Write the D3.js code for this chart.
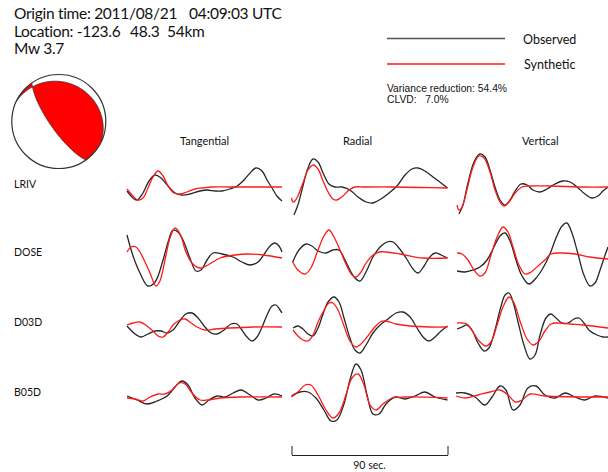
<!DOCTYPE html>
<html>
<head>
<meta charset="utf-8">
<script src="https://cdn.jsdelivr.net/npm/d3@7/dist/d3.min.js"></script>
<style>
  html, body { margin: 0; padding: 0; background: #fff; }
  svg { display: block; }
  text { font-family: Lato, "Open Sans", sans-serif; fill: #111; white-space: pre; }
</style>
</head>
<body>
<svg id="chart" width="608" height="472"></svg>
<script>
// ---- Event header (each line split into aligned fields) ----
const headerLines = [
  ["Origin time: 2011/08/21", "04:09:03 UTC"],
  ["Location: -123.6", "48.3", "54km"],
  ["Mw 3.7"]
];
const headerFieldX = [[14, 189], [14, 130, 167], [14]];
const fitStats = ["Variance reduction: 54.4%", "CLVD:   7.0%"];
const legendLabels = ["Observed", "Synthetic"];

// ---- Focal mechanism (strike, dip, slip angle in plane, degrees) ----
const faultPlane = [145, 75, 81.5];

// ---- Stations and components ----
const stations = ["LRIV", "DOSE", "D03D", "B05D"];
const components = ["Tangential", "Radial", "Vertical"];
const windowSec = 90;
const scaleBarLabel = "90 sec.";

// ---- Waveforms: [time (s), amplitude] ----
const lrivTanObs = [[0,-3],[2.9,-9],[5.8,-12],[9.2,-5],[12.7,7],[16.2,13],[19.6,10],[23.7,2],[27.7,-5],[31.7,-7],[36.3,-6],[42.1,-3],[46.2,-2],[50.8,-3],[54.8,-3],[59.4,-1],[63.5,2],[67.5,8],[71,15],[74.4,20],[77.9,17],[80.8,8],[83.7,0],[86.5,-8],[89.4,-13]];
const lrivTanSyn = [[0,-1],[2.9,-7],[6.3,-12],[9.2,-10],[12.1,0],[15,11],[17.9,17],[20.8,12],[23.7,2],[27.1,-5],[30.6,-6],[34.6,-4],[39.2,-1],[43.3,0],[49,1],[59.4,1],[71,1],[89.4,1]];
const lrivRadObs = [[1.4,-27],[3.7,-17],[6.6,2],[9.5,20],[12.4,29],[15.3,26],[18.2,15],[21.6,4],[25.1,1],[29.1,1],[33.7,-2],[38.4,-9],[43,-14],[47,-15],[51.6,-11],[56.3,-5],[60.9,2],[65.5,13],[69.5,19],[73,20],[77,17],[81.6,11],[86.3,5],[90,0]];
const lrivRadSyn = [[0,-10],[0.9,-14],[2,-13],[3.7,-8],[6.6,5],[9.5,18],[12.4,23],[15.3,19],[18.2,7],[21.1,-4],[23.9,-11],[26.2,-12],[29.7,-8],[33.2,-2],[36.6,1],[42.4,1],[56.8,1],[74.1,0.5],[90,0]];
const lrivVerObs = [[1.7,-26],[4,-17],[6.9,5],[10.4,26],[13.8,34],[16.7,31],[19.6,18],[22.5,1],[25.4,-12],[28.3,-17],[31.2,-12],[34.1,-3],[37.5,4],[41,3],[44.4,-2],[48.5,-4],[52.5,-1],[57.1,4],[61.7,7],[65.8,6],[69.8,1],[74.4,-6],[78.5,-10],[81.9,-8],[84.8,-3],[87.7,1]];
const lrivVerSyn = [[0.6,-17],[1.7,-22],[3.5,-19],[6.3,-2],[9.8,21],[13.3,32],[16.2,30],[19.6,16],[22.5,-2],[25.4,-14],[27.7,-18],[30.6,-14],[34.1,-5],[38.1,1],[42.7,2],[54.2,2],[73.3,1],[87.7,1]];

const doseTanObs = [[0,21],[3.5,0],[7.5,-17],[12.1,-30],[16.2,-26],[20.8,-4],[23.7,14],[26.5,26],[29.4,24],[32.3,16],[36.3,-2],[39.8,-15],[42.7,-14],[46.2,-4],[49.6,3],[54.8,2],[61.2,-1],[66.3,-6],[71,-9],[75.6,-6],[79.6,3],[83.1,11],[85.4,13],[87.7,10],[89.4,4]];
const doseTanSyn = [[0,4],[2.3,9],[5.2,9],[7.5,4],[10.4,-6],[13.3,-17],[16.7,-30],[19,-25],[22.5,1],[24.8,18],[27.7,28],[30.6,22],[34,4],[37.5,-7],[42.1,-12],[46.7,-9],[53.7,-2],[62.3,1],[69.2,2],[78.5,1],[89.4,-2]];
const doseRadObs = [[0.7,-6],[4.3,6],[8.4,12],[11.8,10],[15.3,5],[19.9,3],[23.9,6],[27.4,6],[30.9,-4],[33.7,-14],[36.6,-22],[39.5,-25],[43,-16],[47,-1],[51.1,9],[55.1,14],[58.6,14],[62,8],[66.1,-2],[70.1,-13],[73,-17],[76.5,-10],[79.3,-2],[82.8,3],[86.3,1],[90,-2]];
const doseRadSyn = [[0.7,-6],[3.7,-14],[7.8,-18],[11.2,-12],[15.3,6],[18.7,20],[21.6,26],[24.5,19],[28,6],[31.4,-8],[34.9,-19],[37.2,-21],[40.1,-16],[43,-7],[46.4,0],[50.5,4],[54.5,4],[62.6,2],[75.9,-2],[90,-2]];
const doseVerObs = [[0.6,-15],[5.2,-16],[9.8,-14],[13.8,-11],[17.9,-4],[21.9,9],[25.4,20],[28.3,23],[31.2,15],[34.6,-4],[38.1,-20],[42.1,-28],[46.2,-22],[50.2,-12],[54.2,2],[57.7,18],[61.2,30],[64,33],[66.9,23],[70.4,2],[73.8,-19],[77.3,-30],[80.2,-27],[83.1,-14],[86,1],[87.7,9]];
const doseVerSyn = [[0.6,3],[3.5,2],[6.9,-4],[10.4,-14],[13.8,-20],[16.7,-17],[20.2,1],[23.7,19],[27.1,29],[30,24],[32.9,9],[36.3,-9],[39.8,-18],[43.3,-16],[47.3,-10],[51.3,-4],[54.8,2],[60,3],[68.7,2],[77.3,-1],[87.7,-3]];

const d03dTanObs = [[0,0],[4,-7],[8.1,-11],[12.1,-8],[16.2,-5],[19.6,-5],[23.1,-7],[26.5,-4],[30,4],[34,12],[37.5,13],[41,8],[45,-1],[48.5,-7],[52,-8],[56,-4],[60,2],[63.5,2],[66.3,-4],[69.2,-11],[72.1,-15],[75,-11],[77.9,-1],[80.8,11],[83.7,20],[86,21],[88.3,16],[89.4,13]];
const d03dTanSyn = [[0,1],[3.5,3],[7.5,4],[11.5,0],[15,-5],[17.9,-10],[20.8,-11],[23.7,-6],[27.1,2],[30.6,6],[33.5,7],[37,3],[40.4,-1],[45,-4],[50.8,-3],[59.4,-2],[72.7,-1],[89.4,-1]];
const d03dRadObs = [[0.9,-2],[3.7,0],[6.6,-3],[9.5,-8],[12.4,-10],[15.3,-2],[18.2,12],[21.1,24],[24.5,29],[27.4,24],[30.3,8],[33.7,-12],[36.6,-24],[39.5,-27],[43,-19],[47,-7],[51.1,1],[55.7,7],[60.3,13],[64.3,14],[68.4,9],[72.4,-2],[75.9,-11],[79.3,-15],[82.8,-11],[86.3,-5],[90,0]];
const d03dRadSyn = [[0.9,-4],[3.7,-10],[6.6,-14],[9.5,-15],[12.4,-9],[15.3,4],[18.2,14],[21.6,23],[23.9,23],[26.8,16],[30.3,0],[33.7,-15],[37.2,-21],[40.1,-18],[43.6,-11],[47.6,-2],[51.1,4],[54.5,5],[60.3,2],[68.4,0],[79.9,-1],[90,-1]];
const d03dVerObs = [[0.6,-3],[3.5,-1],[6.3,1],[9.2,-4],[12.7,-17],[16.2,-25],[19,-22],[22.5,-4],[25.4,16],[28.3,31],[30.6,33],[32.9,24],[35.8,4],[39.2,-19],[42.7,-33],[45.6,-29],[48.5,-9],[51.9,8],[54.8,12],[57.7,8],[61.2,3],[64.6,3],[68.1,7],[71,8],[73.8,3],[77.3,-5],[81.3,-9],[84.8,-11],[87.7,-11]];
const d03dVerSyn = [[0.6,3],[3.5,3],[6.3,2],[9.8,-6],[13.3,-15],[17.3,-20],[20.2,-16],[23.7,1],[27.1,19],[30.6,29],[33.5,23],[36.9,5],[41,-13],[44.4,-19],[47.9,-15],[51.3,-5],[54.8,2],[58.8,3],[65.8,2],[73.3,1],[87.7,-2]];

const b05dTanObs = [[0,0],[5.8,-4],[11.5,-8],[17.3,-5],[23.1,0],[27.7,9],[31.7,15],[35.2,11],[39.2,-2],[43.3,-9],[47.3,-4],[51.9,0],[56.5,-1],[61.2,3],[65.8,6],[71,1],[75.6,-4],[80.2,-2],[84.8,2],[89.4,0]];
const b05dTanSyn = [[0,-2],[4.6,-3],[9.2,-5],[13.3,-1],[17.9,2],[21.9,2],[26,6],[30,13],[33.5,12],[37.5,3],[42.1,-4],[46.7,-4],[53.7,-2],[65.2,-1],[89.4,-1]];
const b05dRadObs = [[0,0],[4.9,4],[9.5,4],[14.1,-2],[18.7,-14],[22.8,-25],[26.2,-24],[30.3,-8],[33.7,16],[37.2,32],[40.1,26],[43.6,1],[47,-18],[50.5,-18],[54.5,-8],[59.7,-1],[65.5,-3],[71.2,0],[77,4],[82.8,-1],[90,-4]];
const b05dRadSyn = [[0,-1],[3.7,4],[7.8,11],[11.2,11],[15.3,1],[19.9,-14],[23.9,-22],[27.4,-17],[31.4,1],[34.9,18],[38.4,22],[41.8,11],[45.3,-9],[48.8,-14],[52.8,-8],[58,-2],[65.5,-1],[90,-2]];
const b05dVerObs = [[0,3],[5.2,3],[11,-1],[16.7,-9],[20.8,-1],[25.4,10],[28.8,6],[32.9,-14],[36.9,-9],[41.5,8],[46.2,10],[51.3,1],[57.1,-2],[62.9,3],[68.7,-1],[74.4,-4],[80.2,0],[87.7,-2]];
const b05dVerSyn = [[0,0],[5.8,-2],[12.7,1],[19.6,4],[25.4,6],[30,1],[34.1,-6],[38.1,-4],[42.7,2],[51.3,0],[87.7,-1]];

const traceSets = [
  [lrivTanObs, lrivTanSyn, lrivRadObs, lrivRadSyn, lrivVerObs, lrivVerSyn],
  [doseTanObs, doseTanSyn, doseRadObs, doseRadSyn, doseVerObs, doseVerSyn],
  [d03dTanObs, d03dTanSyn, d03dRadObs, d03dRadSyn, d03dVerObs, d03dVerSyn],
  [b05dTanObs, b05dTanSyn, b05dRadObs, b05dRadSyn, b05dVerObs, b05dVerSyn]
];

// ---- Layout ----
const svg = d3.select("#chart");
const obsColor = "#262626", synColor = "#ff1a1a";
const colLeft = [127, 291.5, 456], colWidth = 156;
const rowBase = [188, 256, 326, 396];
const headerX = [180, 343, 522];

const xScales = colLeft.map(x0 => d3.scaleLinear().domain([0, windowSec]).range([x0, x0 + colWidth]));
const yScales = rowBase.map(b => d3.scaleLinear().domain([-40, 40]).range([b + 40, b - 40]));

// Header text
const header = svg.append("g").style("font-size", "15.5px").style("letter-spacing", "-0.3px");
headerLines.forEach((fields, i) => {
  header.append("g").selectAll("text").data(fields).join("text")
    .attr("x", (d, k) => headerFieldX[i][k]).attr("y", 19 + i * 17.5).text(d => d);
});

// Legend
const legend = svg.append("g");
legend.selectAll("line").data(legendLabels).join("line")
  .attr("x1", 387).attr("x2", 505)
  .attr("y1", (d, i) => 38.5 + i * 25.5).attr("y2", (d, i) => 38.5 + i * 25.5)
  .attr("stroke", (d, i) => i ? synColor : "#555").attr("stroke-width", 1.3);
legend.selectAll("text").data(legendLabels).join("text")
  .attr("x", (d, i) => 523 + i).attr("y", (d, i) => 44 + i * 24.5)
  .style("font-size", "12.5px").text(d => d);

svg.append("g").selectAll("text").data(fitStats).join("text")
  .attr("x", 387).attr("y", (d, i) => 91.5 + i * 11.8)
  .style("font-family", "'Liberation Sans Narrow', 'Liberation Sans', sans-serif")
  .style("font-size", "10.3px").text(d => d);

// Column headers and station names
svg.append("g").selectAll("text").data(components).join("text")
  .attr("x", (d, i) => headerX[i]).attr("y", 145)
  .style("font-size", "11px").text(d => d);
svg.append("g").selectAll("text").data(stations).join("text")
  .attr("x", 14).attr("y", (d, i) => rowBase[i])
  .style("font-size", "10.5px").text(d => d);

// Waveforms
const waves = svg.append("g").attr("fill", "none").attr("stroke-width", 1.3);
traceSets.forEach((set, r) => {
  components.forEach((c, ci) => {
    const line = d3.line()
      .x(d => xScales[ci](d[0]))
      .y(d => yScales[r](d[1]))
      .curve(d3.curveCatmullRom.alpha(0.5));
    waves.append("path").attr("d", line(set[ci * 2])).attr("stroke", obsColor);
    waves.append("path").attr("d", line(set[ci * 2 + 1])).attr("stroke", synColor);
  });
});

// Time scale bar under the radial column
const bar = svg.append("g").attr("transform", "translate(0,455)")
  .call(d3.axisBottom(xScales[1]).tickValues([0, windowSec]).tickSize(-9).tickSizeOuter(0).tickFormat(""));
bar.selectAll("path, line").attr("stroke", "#222").attr("stroke-width", 1);
svg.append("text").attr("x", xScales[1](windowSec / 2)).attr("y", 469)
  .attr("text-anchor", "middle").style("font-size", "10.5px").text(scaleBarLabel);

// ---- Focal mechanism (lower hemisphere, equal-area) ----
const rad = Math.PI / 180;
const [strike, dip, slipAngle] = faultPlane;
const strikeVec = [Math.cos(strike * rad), Math.sin(strike * rad), 0];
const dipVec = [Math.cos(dip * rad) * Math.cos((strike + 90) * rad), Math.cos(dip * rad) * Math.sin((strike + 90) * rad), Math.sin(dip * rad)];
const normalVec = [Math.sin(dip * rad) * Math.cos((strike - 90) * rad), Math.sin(dip * rad) * Math.sin((strike - 90) * rad), Math.cos(dip * rad)];
const slipVec = strikeVec.map((s, k) => Math.cos(slipAngle * rad) * s + Math.sin(slipAngle * rad) * dipVec[k]);
const dot = (a, b) => a[0] * b[0] + a[1] * b[1] + a[2] * b[2];

const bb = { cx: 58.8, cy: 121.5, r: 47 };
const n = 240;
const values = new Array(n * n);
for (let j = 0; j < n; j++) {
  for (let i = 0; i < n; i++) {
    const px = ((i + 0.5) / n) * 2 - 1, py = ((j + 0.5) / n) * 2 - 1;
    const rho2 = px * px + py * py;
    if (rho2 > 1) { values[j * n + i] = -1; continue; }
    const f = Math.sqrt(2 - rho2);
    const dir = [-py * f, px * f, 1 - rho2];
    values[j * n + i] = dot(normalVec, dir) * dot(slipVec, dir);
  }
}
const contour = d3.contours().size([n, n]).thresholds([0])(values)[0];
const proj = d3.geoIdentity().scale(2 * bb.r / n).translate([bb.cx - bb.r, bb.cy - bb.r]);
const ball = svg.append("g");
ball.append("path").attr("d", d3.geoPath(proj)(contour)).attr("fill", "#ff0000");

// Nodal planes as projected great circles
const toScreen = v => [bb.cx + bb.r * v[1] / Math.sqrt(1 + v[2]), bb.cy - bb.r * v[0] / Math.sqrt(1 + v[2])];
function greatCircle(nv) {
  let h = [nv[1], -nv[0], 0];
  const hl = Math.hypot(h[0], h[1]);
  h = h.map(x => x / hl);
  let e2 = [nv[1] * h[2] - nv[2] * h[1], nv[2] * h[0] - nv[0] * h[2], nv[0] * h[1] - nv[1] * h[0]];
  if (e2[2] < 0) e2 = e2.map(x => -x);
  return d3.range(0, 181, 2).map(a => toScreen(h.map((x, k) => Math.cos(a * rad) * x + Math.sin(a * rad) * e2[k])));
}
ball.selectAll("path.plane").data([normalVec, slipVec]).join("path").attr("class", "plane")
  .attr("d", d => d3.line()(greatCircle(d))).attr("fill", "none").attr("stroke", "#333").attr("stroke-width", 0.8);
ball.append("circle").attr("cx", bb.cx).attr("cy", bb.cy).attr("r", bb.r)
  .attr("fill", "none").attr("stroke", "#333").attr("stroke-width", 1.2);
</script>
</body>
</html>
